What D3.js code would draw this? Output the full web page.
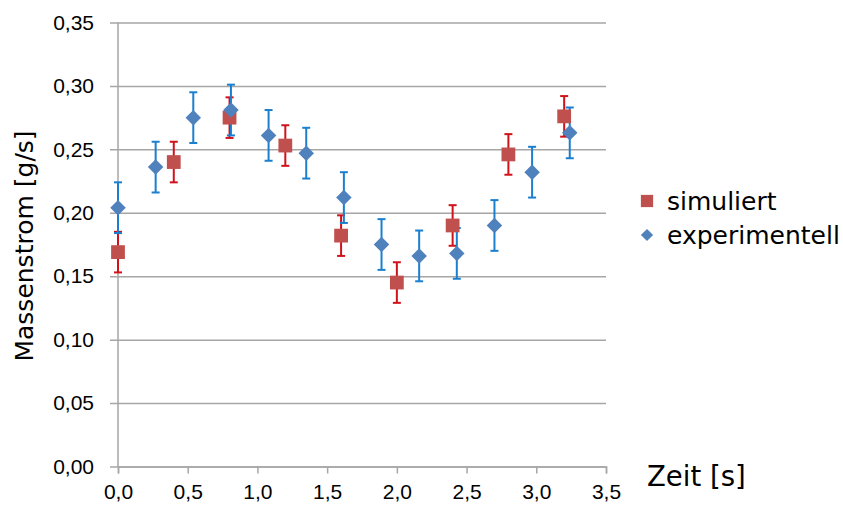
<!DOCTYPE html>
<html>
<head>
<meta charset="utf-8">
<script src="https://cdn.jsdelivr.net/npm/d3@7"></script>
<style>
  html, body { margin: 0; padding: 0; background: #fff; }
  svg { display: block; }
</style>
</head>
<body>
<svg id="chart" width="843" height="511"></svg>
<script>
// Zeit [s] and Massenstrom [g/s] for both series
const simTime = [0, 0.4, 0.8, 1.2, 1.6, 2.0, 2.4, 2.8, 3.2];
const simFlow = [0.169, 0.240, 0.275, 0.253, 0.182, 0.145, 0.190, 0.246, 0.276];
const simErr  = [0.016, 0.016, 0.016, 0.016, 0.016, 0.016, 0.016, 0.016, 0.016];

const expTime = [0, 0.27, 0.54, 0.81, 1.08, 1.35, 1.62, 1.89, 2.16, 2.43, 2.70, 2.97, 3.24];
const expFlow = [0.204, 0.236, 0.275, 0.281, 0.261, 0.247, 0.212, 0.175, 0.166, 0.168, 0.190, 0.232, 0.263];
const expErr  = [0.02, 0.02, 0.02, 0.02, 0.02, 0.02, 0.02, 0.02, 0.02, 0.02, 0.02, 0.02, 0.02];

const xTicks = [0, 0.5, 1.0, 1.5, 2.0, 2.5, 3.0, 3.5];
const yTicks = [0, 0.05, 0.10, 0.15, 0.20, 0.25, 0.30, 0.35];
const seriesNames = ["simuliert", "experimentell"];

const fmt1 = d => d3.format(".1f")(d).replace(".", ",");
const fmt2 = d => d3.format(".2f")(d).replace(".", ",");

const svg = d3.select("#chart");
const x = d3.scaleLinear().domain([0, 3.5]).range([118, 606]);
const y = d3.scaleLinear().domain([0, 0.35]).range([466.5, 22.5]);

const gridColor = "#a6a6a6";
const tickFont = "'Liberation Sans', Arial, sans-serif";
const titleFont = "'DejaVu Sans', Verdana, sans-serif";

// horizontal gridlines with outward ticks and labels
const yAxis = svg.append("g")
  .attr("transform", `translate(${x(0)},0)`)
  .call(d3.axisLeft(y).tickValues(yTicks).tickFormat(fmt2)
    .tickSize(-(x(3.5) - x(0))).tickPadding(24));
yAxis.select(".domain").remove();
yAxis.selectAll(".tick line")
  .attr("x1", -8).attr("stroke", gridColor).attr("stroke-width", 1.5);
yAxis.selectAll(".tick text")
  .attr("font-family", tickFont).attr("font-size", 21).attr("fill", "#000");

// vertical axis line
svg.append("line")
  .attr("x1", x(0)).attr("x2", x(0)).attr("y1", y(0.35)).attr("y2", y(0) + 0.5)
  .attr("stroke", gridColor).attr("stroke-width", 1.5);

// bottom axis
const xAxis = svg.append("g")
  .attr("transform", `translate(0,${y(0)})`)
  .call(d3.axisBottom(x).tickValues(xTicks).tickFormat(fmt1).tickSize(7).tickPadding(11));
xAxis.select(".domain").attr("stroke", gridColor).attr("stroke-width", 1.5);
xAxis.selectAll(".tick line").attr("stroke", gridColor).attr("stroke-width", 1.5);
xAxis.selectAll(".tick text")
  .attr("font-family", tickFont).attr("font-size", 21).attr("fill", "#000");

// error bars
function errorBars(times, vals, errs, color) {
  const g = svg.append("g").attr("stroke", color).attr("stroke-width", 2).attr("fill", "none");
  times.forEach((t, i) => {
    const cx = x(t), y1 = y(vals[i] + errs[i]), y2 = y(vals[i] - errs[i]);
    g.append("line").attr("x1", cx).attr("x2", cx).attr("y1", y1).attr("y2", y2);
    g.append("line").attr("x1", cx - 4).attr("x2", cx + 4).attr("y1", y1).attr("y2", y1);
    g.append("line").attr("x1", cx - 4).attr("x2", cx + 4).attr("y1", y2).attr("y2", y2);
  });
}
errorBars(simTime, simFlow, simErr, "#d0121b");
errorBars(expTime, expFlow, expErr, "#1a7fcf");

const redFill = "#c0504d";
const blueFill = "#4f81bd";
const squareSym = d3.symbol().type(d3.symbolSquare).size(190);
const diamondSym = d3.symbol().type(d3.symbolSquare).size(120);

// markers
svg.append("g").selectAll("path").data(simTime).join("path")
  .attr("d", squareSym)
  .attr("transform", (t, i) => `translate(${x(t)},${y(simFlow[i])})`)
  .attr("fill", redFill);
svg.append("g").selectAll("path").data(expTime).join("path")
  .attr("d", diamondSym)
  .attr("transform", (t, i) => `translate(${x(t)},${y(expFlow[i])}) rotate(45)`)
  .attr("fill", blueFill);

// axis titles
svg.append("text")
  .attr("transform", "translate(33,246) rotate(-90)")
  .attr("text-anchor", "middle")
  .attr("font-family", titleFont).attr("font-size", 25).attr("fill", "#000")
  .text("Massenstrom [g/s]");
svg.append("text")
  .attr("x", 647).attr("y", 486)
  .attr("font-family", titleFont).attr("font-size", 27.5).attr("fill", "#000")
  .text("Zeit [s]");

// legend
const legend = svg.append("g");
legend.append("path")
  .attr("d", d3.symbol().type(d3.symbolSquare).size(150))
  .attr("transform", "translate(647,201)").attr("fill", redFill);
legend.append("path")
  .attr("d", d3.symbol().type(d3.symbolSquare).size(75))
  .attr("transform", "translate(647,235) rotate(45)").attr("fill", blueFill);
legend.selectAll("text").data(seriesNames).join("text")
  .attr("x", 667).attr("y", (d, i) => 201 + i * 34)
  .attr("dy", "0.35em")
  .attr("font-family", titleFont).attr("font-size", 25).attr("fill", "#000")
  .text(d => d);
</script>
</body>
</html>
